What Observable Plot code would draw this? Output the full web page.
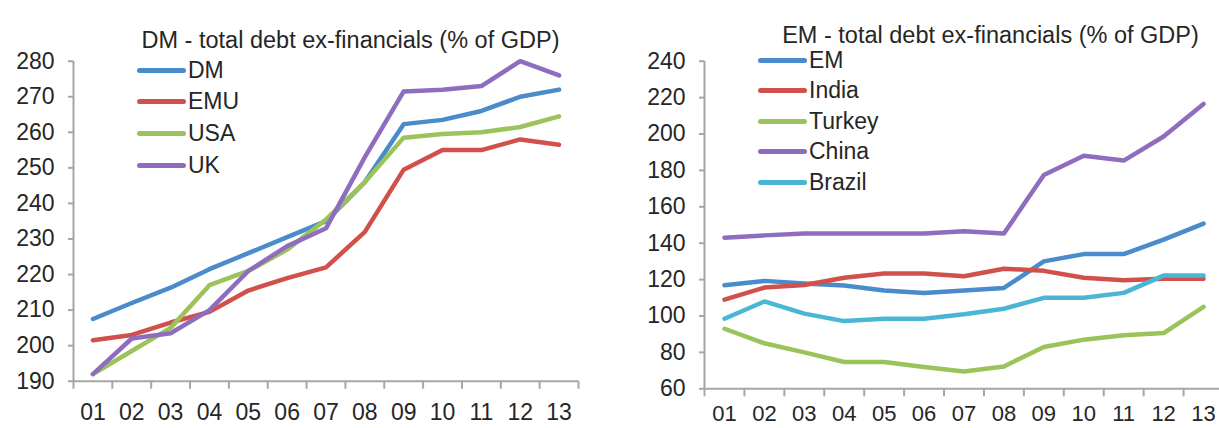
<!DOCTYPE html>
<html>
<head>
<meta charset="utf-8">
<script src="https://cdn.jsdelivr.net/npm/d3@7"></script>
<script src="https://cdn.jsdelivr.net/npm/@observablehq/plot@0.6"></script>
<style>
html, body { margin: 0; padding: 0; background: #fff; overflow: hidden; width: 1219px; height: 428px; }
#wrap { position: relative; width: 1219px; height: 428px; overflow: hidden; font-family: "Liberation Sans", Arial, sans-serif; color: #262626; }
.panel { position: absolute; top: 0; }
.panel svg { max-width: none !important; }
.legend { position: absolute; font-size: 23px; color: #262626; }
.legend .row { position: absolute; left: 0; height: 30px; display: flex; align-items: center; white-space: nowrap; }
.legend .sw { width: 49px; height: 5px; border-radius: 3px; margin-right: 2px; }
</style>
</head>
<body>
<div id="wrap"></div>
<script>
// ---- data ----
const years = ["01","02","03","04","05","06","07","08","09","10","11","12","13"];

const dmTitle = "DM - total debt ex-financials (% of GDP)";
const dmNames = ["DM", "EMU", "USA", "UK"];
const dmColors = ["#4a8bcb", "#d2504b", "#9cc35a", "#8e6dbe"];
const dmDM  = [207.5, 212, 216.3, 221.5, 226, 230.5, 235, 246, 262.3, 263.5, 266, 270, 272];
const dmEMU = [201.5, 203, 206.5, 209.5, 215.5, 219, 222, 232, 249.5, 255, 255, 258, 256.5];
const dmUSA = [192, 198.5, 205, 217, 221, 227, 235.5, 246, 258.5, 259.5, 260, 261.5, 264.5];
const dmUK  = [192, 202, 203.5, 210, 221, 228, 233, 253, 271.5, 272, 273, 280, 276];
const dmTicks = [190, 200, 210, 220, 230, 240, 250, 260, 270, 280];

const emTitle = "EM - total debt ex-financials (% of GDP)";
const emNames = ["EM", "India", "Turkey", "China", "Brazil"];
const emColors = ["#4a8bcb", "#d2504b", "#9cc35a", "#8e6dbe", "#4bb6d4"];
const emEM     = [116.9, 119.3, 117.8, 116.7, 114, 112.7, 114, 115.4, 130, 134, 134, 142, 150.8];
const emIndia  = [109, 115.6, 117, 121, 123.3, 123.3, 121.8, 126, 124.8, 121, 119.6, 120.5, 120.5];
const emTurkey = [93, 85, 80, 74.7, 74.7, 72, 69.5, 72.3, 83, 87, 89.4, 90.6, 105];
const emChina  = [143, 144.3, 145.3, 145.3, 145.3, 145.3, 146.5, 145.3, 177.5, 188, 185.4, 198.6, 216.5];
const emBrazil = [98.5, 108, 101.3, 97.2, 98.5, 98.5, 101, 104, 110, 110, 112.7, 122.2, 122.2];
const emTicks = [60, 80, 100, 120, 140, 160, 180, 200, 220, 240];

// ---- build ----
const FONT = '"Liberation Sans", Arial, sans-serif';
const AXIS = "#a6a6a6";
const TEXT = "#262626";

function rowsOf(names, seriesList) {
  const rows = [];
  names.forEach((n, s) => seriesList[s].forEach((v, i) => rows.push({series: n, x: i + 1, value: v})));
  return rows;
}

function panel(cfg) {
  const positions = years.map((_, i) => i + 1);
  const bounds = [0.5].concat(positions.map(p => p + 0.5));
  const color = Plot.scale({color: {domain: cfg.names, range: cfg.colors}});
  return Plot.plot({
    width: cfg.width, height: 428,
    marginLeft: cfg.ml, marginRight: cfg.mr, marginTop: cfg.mt, marginBottom: cfg.mb,
    style: {fontFamily: FONT, fontSize: "23px", color: TEXT, background: "transparent", overflow: "visible", maxWidth: "none"},
    x: {domain: [0.5, 13.5], axis: null},
    y: {domain: cfg.ydomain, axis: null},
    marks: [
      Plot.axisY({ticks: cfg.ticks, tickSize: 5, tickPadding: 14, stroke: AXIS, strokeWidth: 2, fill: TEXT, fontSize: 23, label: null}),
      Plot.axisX({ticks: bounds, tickSize: 8, tickFormat: () => "", stroke: AXIS, strokeWidth: 2, label: null}),
      Plot.axisX({ticks: positions, tickSize: 0, tickPadding: cfg.xpad, tickFormat: d => years[d - 1], fill: TEXT, fontSize: cfg.xfont, label: null}),
      Plot.ruleX([0.5], {stroke: AXIS, strokeWidth: 2}),
      Plot.ruleY([cfg.ydomain[0]], {stroke: AXIS, strokeWidth: 2}),
      Plot.line(cfg.rows, {x: "x", y: "value", z: "series", stroke: d => color.apply(d.series), strokeWidth: 4.5, strokeLinejoin: "round", strokeLinecap: "round"}),
      Plot.text([cfg.title], {frameAnchor: "top-left", dx: cfg.tdx, dy: cfg.tdy, textAnchor: "middle", fontSize: 23.5, fill: TEXT})
    ]
  });
}

function legend(names, colors, left, top, step) {
  const lg = document.createElement("div");
  lg.className = "legend";
  lg.style.left = left + "px";
  lg.style.top = "0px";
  names.forEach((n, i) => {
    const r = document.createElement("div");
    r.className = "row";
    r.style.top = (top + i * step - 15) + "px";
    const sw = document.createElement("div");
    sw.className = "sw";
    sw.style.background = colors[i];
    const t = document.createElement("span");
    t.textContent = n;
    r.appendChild(sw); r.appendChild(t);
    lg.appendChild(r);
  });
  return lg;
}

const wrap = document.getElementById("wrap");

const left = document.createElement("div");
left.className = "panel"; left.style.left = "0px"; left.style.width = "610px";
left.appendChild(panel({
  width: 610, ml: 73, mr: 32, mt: 60.7, mb: 47.3,
  ydomain: [190, 280], ticks: dmTicks, names: dmNames, colors: dmColors,
  rows: rowsOf(dmNames, [dmDM, dmEMU, dmUSA, dmUK]),
  title: dmTitle, tdx: 277, tdy: -30, xpad: 22, xfont: 23
}));
wrap.appendChild(left);

const right = document.createElement("div");
right.className = "panel"; right.style.left = "610px"; right.style.width = "640px";
right.appendChild(panel({
  width: 640, ml: 94, mr: 27, mt: 60.7, mb: 39.7,
  ydomain: [60, 240], ticks: emTicks, names: emNames, colors: emColors,
  rows: rowsOf(emNames, [emEM, emIndia, emTurkey, emChina, emBrazil]),
  title: emTitle, tdx: 286, tdy: -35, xpad: 17, xfont: 22
}));
wrap.appendChild(right);

wrap.appendChild(legend(dmNames, dmColors, 137, 70, 31.7));
wrap.appendChild(legend(emNames, emColors, 758, 60, 30.5));
</script>
</body>
</html>
